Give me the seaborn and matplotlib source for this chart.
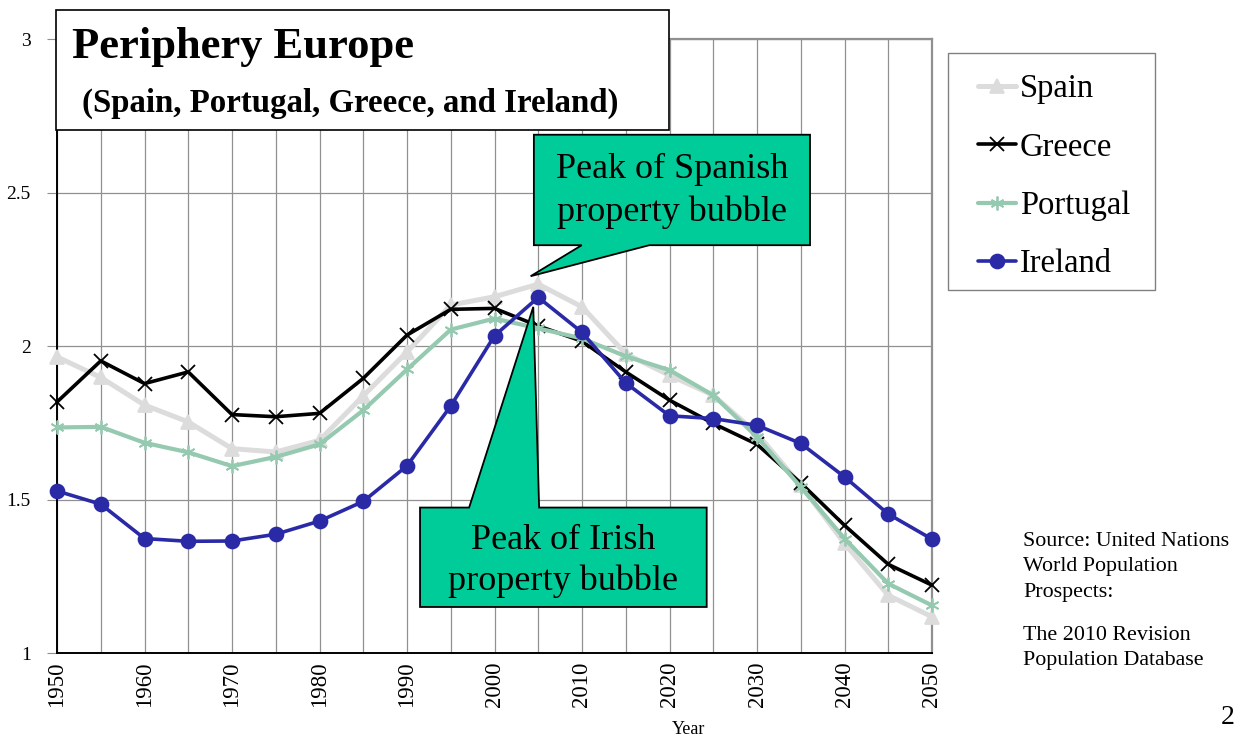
import numpy as np
import pandas as pd
import seaborn as sns
import matplotlib.pyplot as plt
from matplotlib.patches import Polygon, Rectangle

# Total fertility rate, UN World Population Prospects 2010
years = list(range(1950, 2051, 5))
spain = [1.965, 1.898, 1.808, 1.753, 1.666, 1.655, 1.693, 1.838, 1.981, 2.134, 2.161,
         2.202, 2.128, 1.975, 1.905, 1.840, 1.715, 1.547, 1.357, 1.188, 1.118]
greece = [1.818, 1.952, 1.878, 1.916, 1.777, 1.770, 1.781, 1.895, 2.036, 2.120, 2.123,
          2.066, 2.016, 1.916, 1.824, 1.748, 1.680, 1.554, 1.416, 1.289, 1.221]
portugal = [1.735, 1.737, 1.685, 1.654, 1.609, 1.639, 1.680, 1.791, 1.924, 2.054, 2.090,
            2.058, 2.025, 1.967, 1.922, 1.840, 1.704, 1.541, 1.373, 1.226, 1.155]
ireland = [1.528, 1.485, 1.373, 1.364, 1.365, 1.387, 1.430, 1.494, 1.610, 1.805, 2.034,
           2.159, 2.045, 1.880, 1.773, 1.764, 1.742, 1.683, 1.574, 1.453, 1.371]

countries = ['Spain', 'Greece', 'Portugal', 'Ireland']
colors = {'Spain': '#dcdcdc', 'Greece': '#000000', 'Portugal': '#95c9b0', 'Ireland': '#2a2aa6'}
markers = {'Spain': '^', 'Greece': 'x', 'Portugal': (6, 2, 0), 'Ireland': 'o'}
widths = {'Spain': 3.6, 'Greece': 2.6, 'Portugal': 3.0, 'Ireland': 2.6}

df = pd.DataFrame({'Year': years * 4,
                   'TFR': spain + greece + portugal + ireland,
                   'Country': np.repeat(countries, len(years))})

sns.set_style('white')
plt.rcParams['font.family'] = ['Liberation Serif', 'DejaVu Serif']
plt.rcParams['text.color'] = 'black'
plt.rcParams['xtick.color'] = 'black'
plt.rcParams['ytick.color'] = 'black'

W, H = 1243, 738
fig = plt.figure(figsize=(W / 100, H / 100), dpi=100)
ax = fig.add_axes([57 / W, 1 - 653 / H, (932 - 57) / W, (653 - 39.3) / H])

for c in countries:
    sub = df[df['Country'] == c]
    sns.lineplot(data=sub, x='Year', y='TFR', ax=ax, color=colors[c], lw=widths[c],
                 marker=markers[c], markersize=10, markeredgewidth=1.3,
                 markeredgecolor=colors[c], label=c, legend=False, zorder=3,
                 clip_on=False)

ax.set_xlim(1950, 2050)
ax.set_ylim(1, 3)
ax.set_xticks(range(1950, 2051, 10))
ax.set_xticks(range(1955, 2050, 10), minor=True)
ax.set_yticks([1, 1.5, 2, 2.5, 3])
ax.set_yticklabels(['1', '1.5', '2', '2.5', '3'])
ax.grid(True, which='both', axis='x', color='#909090', lw=0.9)
ax.grid(True, which='major', axis='y', color='#909090', lw=0.9)
ax.tick_params(axis='x', which='both', length=0, pad=6, labelsize=16.5, rotation=90)
ax.tick_params(axis='y', length=7, color='#909090', labelcolor='black', pad=12,
               labelsize=14, left=True)
ax.set_xlabel('')
ax.set_ylabel('')
for s in ['left', 'bottom']:
    ax.spines[s].set_color('black')
    ax.spines[s].set_linewidth(1.4)
for s in ['top', 'right']:
    ax.spines[s].set_color('#909090')
    ax.spines[s].set_linewidth(1.6)

# callouts (box + tail), anchored in data coordinates
green = '#00cc99'
sp_shape = [(2004.5, 2.689), (2036.06, 2.689), (2036.06, 2.329), (2017.69, 2.329),
            (2004.13, 2.228), (2009.97, 2.329), (2004.5, 2.329)]
ax.add_patch(Polygon(sp_shape, closed=True, fc=green, ec='black', lw=1.3,
                     zorder=5, clip_on=False))
ax.text(2020.3, 2.506, 'Peak of Spanish\nproperty bubble', ha='center', va='center',
        fontsize=26, linespacing=1.38, zorder=6)

ir_shape = [(1991.49, 1.474), (1997.1, 1.474), (2004.43, 2.128), (2005.1, 1.474),
            (2024.25, 1.474), (2024.25, 1.150), (1991.49, 1.150)]
ax.add_patch(Polygon(ir_shape, closed=True, fc=green, ec='black', lw=1.3,
                     zorder=5, clip_on=False))
ax.text(2007.87, 1.299, 'Peak of Irish\nproperty bubble', ha='center', va='center',
        fontsize=26, linespacing=1.3, zorder=6)

# title box
fig.patches.append(Rectangle((56 / W, 1 - 130 / H), (669 - 56) / W, 120 / H,
                             transform=fig.transFigure, fc='white', ec='black',
                             lw=1.2, zorder=10))
fig.text(72 / W, 1 - 47 / H, 'Periphery Europe', fontsize=32, fontweight='bold',
         va='center', ha='left', zorder=11)
fig.text(82 / W, 1 - 103 / H, '(Spain, Portugal, Greece, and Ireland)', fontsize=23.7,
         fontweight='bold', va='center', ha='left', zorder=11)

# legend: frame drawn separately, entries placed inside it
fig.patches.append(Rectangle((948 / W, 1 - 290 / H), (1155 - 948) / W, (290 - 53) / H,
                             transform=fig.transFigure, fc='white', ec='#808080',
                             lw=1.0, zorder=10))
handles, labels = ax.get_legend_handles_labels()
leg = fig.legend(handles, labels, loc='upper left', bbox_to_anchor=(978 / W, 1 - 74 / H),
                 frameon=False, fontsize=23.5, handlelength=1.17, handletextpad=0.12,
                 labelspacing=0.85, borderpad=0, borderaxespad=0)
leg.set_zorder(11)

fig.text(689 / W, 1 - 730 / H, 'Year', fontsize=13, ha='center', va='center')
fig.text(1023 / W, 1 - 532 / H, 'Source: United Nations\nWorld Population\nProspects:',
         fontsize=15.8, ha='left', va='top', linespacing=1.45)
fig.text(1023 / W, 1 - 626 / H, 'The 2010 Revision\nPopulation Database',
         fontsize=15.8, ha='left', va='top', linespacing=1.45)
fig.text(1228 / W, 1 - 717 / H, '2', fontsize=20, ha='center', va='center')

fig.savefig('out.png', dpi=100)
